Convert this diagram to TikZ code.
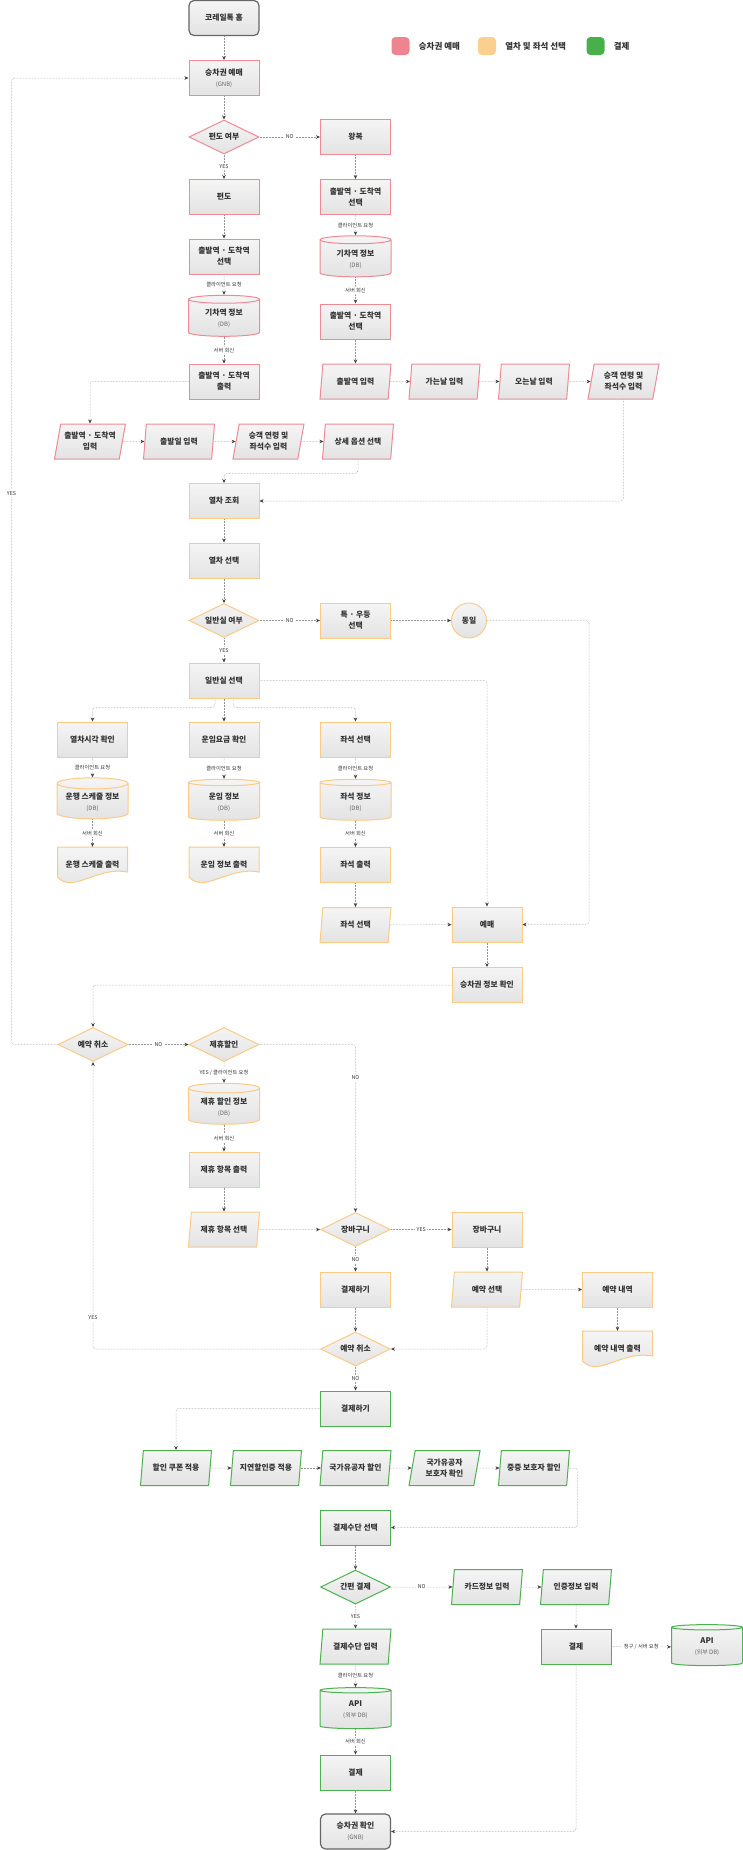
\documentclass[tikz,border=0pt]{standalone}
\usepackage{fontspec}
\setmainfont{Noto Sans CJK KR}
\usetikzlibrary{arrows.meta,positioning,shapes.geometric,calc}
\definecolor{Rc}{HTML}{EE8A95}
\definecolor{Oc}{HTML}{FBCB86}
\definecolor{Gc}{HTML}{4CB14E}
\definecolor{Tc}{HTML}{666666}
\definecolor{ink}{HTML}{333333}
\definecolor{RL}{HTML}{EE8490}
\definecolor{OL}{HTML}{FBCF90}
\definecolor{GL}{HTML}{47B04A}
\newcommand{\bx}{\fontsize{7.8}{11}\selectfont\bfseries}
\newcommand{\lbf}{\fontsize{5.3}{6}\selectfont}
\newcommand{\subtx}[1]{{\fontsize{6}{8}\selectfont\mdseries\color{black!60}#1}}
\tikzset{
  shp/.style={font=\bx, text=ink, line width=1pt, top color=black!4, bottom color=black!11, align=center, inner sep=1pt},
  proc/.style={shp, rectangle, minimum width=70pt, minimum height=35pt},
  term/.style={proc, rounded corners=5pt, draw=Tc, line width=1.2pt},
  dec/.style={shp, diamond, aspect=2, inner sep=0pt, minimum width=70pt, minimum height=34pt},
  io/.style={shp, trapezium, trapezium left angle=73, trapezium right angle=107, trapezium stretches body, minimum width=71pt, minimum height=35pt},
  db/.style={shp, cylinder, shape border rotate=90, aspect=0.2, minimum width=71pt, minimum height=41pt},
  conn/.style={shp, circle, minimum size=35pt, inner sep=0pt},
  doc/.style={font=\bx, text=ink, align=center, minimum width=70pt, minimum height=36pt, inner sep=1pt},
  docln/.style={line width=1pt, top color=black!4, bottom color=black!11},
  Rb/.style={draw=Rc}, Ob/.style={draw=Oc}, Gb/.style={draw=Gc},
  lbl/.style={font=\lbf, text=ink, fill=white, inner sep=1.5pt},
  link/.style={densely dotted, draw=black!42, line width=0.5pt, rounded corners=3pt, -{Stealth[length=4pt, width=3.5pt, color=black!75]}},
  key/.style={rounded corners=4pt, minimum size=18pt, inner sep=0pt},
  keytx/.style={font=\fontsize{8.5}{10}\selectfont\bfseries, text=ink, inner sep=0pt},
}
\newcommand{\docnode}[5]{% name, x, y, border, text
  \path[docln, #4] ({#2-35},{#3-18}) -- ({#2+35},{#3-18}) -- ({#2+35},{#3+7})
    .. controls ({#2+5},{#3+1}) and ({#2-20},{#3+29}) .. ({#2-35},{#3+12}) -- cycle;
  \node[doc] (#1) at (#2,#3) {#5};}
\begin{document}
\begin{tikzpicture}[x=1pt, y=-1pt]
  \useasboundingbox (0,0) rectangle (743,1850);
  % legend
  \node[key, fill=RL] (kR) at (400.5,46) {};
  \node[keytx, right=9pt of kR] (tR) {승차권 예매};
  \node[key, fill=OL] (kO) at (487,46) {};
  \node[keytx, right=9pt of kO] (tO) {열차 및 좌석 선택};
  \node[key, fill=GL] (kG) at (595.5,46) {};
  \node[keytx, right=9pt of kG] (tG) {결제};
  % ticket booking
  \node[term] (home) at (224,18) {코레일톡 홈};
  \node[proc, Rb] (gnb) at (224,78) {승차권 예매\\\subtx{(GNB)}};
  \node[dec, Rb] (qOne) at (224,137) {편도 여부};
  \node[proc, Rb] (round) at (355.5,137) {왕복};
  \node[proc, Rb] (one) at (224,197) {편도};
  \node[proc, Rb] (selL) at (224,256.5) {출발역 · 도착역\\선택};
  \node[db, Rb] (dbL) at (224,318.5) {기차역 정보\\\subtx{(DB)}};
  \node[proc, Rb] (outL) at (224,381.5) {출발역 · 도착역\\출력};
  \node[proc, Rb] (selR) at (355.5,197) {출발역 · 도착역\\선택};
  \node[db, Rb] (dbR) at (355.5,259) {기차역 정보\\\subtx{(DB)}};
  \node[proc, Rb] (outR) at (355.5,321.5) {출발역 · 도착역\\선택};
  \node[io, Rb] (inR1) at (355.5,381.5) {출발역 입력};
  \node[io, Rb] (inR2) at (444.5,381.5) {가는날 입력};
  \node[io, Rb] (inR3) at (534,381.5) {오는날 입력};
  \node[io, Rb] (inR4) at (623.5,381.5) {승객 연령 및\\좌석수 입력};
  \node[io, Rb] (inL1) at (90,441.5) {출발역 · 도착역\\입력};
  \node[io, Rb] (inL2) at (179,441.5) {출발일 입력};
  \node[io, Rb] (inL3) at (268.5,441.5) {승객 연령 및\\좌석수 입력};
  \node[io, Rb] (inL4) at (358,441.5) {상세 옵션 선택};
  % train and seat
  \node[proc, Ob] (search) at (224,501) {열차 조회};
  \node[proc, Ob] (train) at (224,560.5) {열차 선택};
  \node[dec, Ob] (qGen) at (224,620.5) {일반실 여부};
  \node[proc, Ob] (prem) at (355.5,620.5) {특 · 우등\\선택};
  \node[conn, Ob] (same) at (469,620.5) {동일};
  \node[proc, Ob] (gen) at (224,680.5) {일반실 선택};
  \node[proc, Ob] (time) at (92.5,739.5) {열차시각 확인};
  \node[proc, Ob] (fare) at (224,739.5) {운임요금 확인};
  \node[proc, Ob] (seat) at (355.5,739.5) {좌석 선택};
  \node[db, Ob] (dbT) at (92.5,802) {운행 스케줄 정보\\\subtx{(DB)}};
  \node[db, Ob] (dbF) at (224,802) {운임 정보\\\subtx{(DB)}};
  \node[db, Ob] (dbS) at (355.5,802) {좌석 정보\\\subtx{(DB)}};
  \docnode{docT}{92.5}{865}{Ob}{운행 스케줄 출력}
  \docnode{docF}{224}{865}{Ob}{운임 정보 출력}
  \node[proc, Ob] (seatOut) at (355.5,865) {좌석 출력};
  \node[io, Ob] (seatIn) at (355.5,925) {좌석 선택};
  \node[proc, Ob] (buy) at (487,924.5) {예매};
  \node[proc, Ob] (info) at (487,985) {승차권 정보 확인};
  \node[dec, Ob] (cancelA) at (93,1044.5) {예약 취소};
  \node[dec, Ob] (coop) at (224,1044.5) {제휴할인};
  \node[db, Ob] (dbC) at (224,1107) {제휴 할인 정보\\\subtx{(DB)}};
  \node[proc, Ob] (coopOut) at (224,1169.5) {제휴 항목 출력};
  \node[io, Ob] (coopIn) at (224,1229.5) {제휴 항목 선택};
  \node[dec, Ob] (qCart) at (355.5,1229.5) {장바구니};
  \node[proc, Ob] (cart) at (487,1229.5) {장바구니};
  \node[proc, Ob] (payA) at (355.5,1289.5) {결제하기};
  \node[io, Ob] (resSel) at (487,1289.5) {예약 선택};
  \node[proc, Ob] (resList) at (617.5,1289.5) {예약 내역};
  \docnode{resDoc}{617.5}{1349}{Ob}{예약 내역 출력}
  \node[dec, Ob] (cancelB) at (355.5,1349) {예약 취소};
  % payment
  \node[proc, Gb] (payB) at (355.5,1408.5) {결제하기};
  \node[io, Gb] (d1) at (176,1468) {할인 쿠폰 적용};
  \node[io, Gb] (d2) at (266,1468) {지연할인증 적용};
  \node[io, Gb] (d3) at (355.5,1468) {국가유공자 할인};
  \node[io, Gb] (d4) at (444.5,1468) {국가유공자\\보호자 확인};
  \node[io, Gb] (d5) at (534,1468) {중증 보호자 할인};
  \node[proc, Gb] (method) at (355.5,1527.5) {결제수단 선택};
  \node[dec, Gb] (qEasy) at (355.5,1587) {간편 결제};
  \node[io, Gb] (card) at (487,1587) {카드정보 입력};
  \node[io, Gb] (auth) at (576,1587) {인증정보 입력};
  \node[io, Gb] (methodIn) at (355.5,1646.5) {결제수단 입력};
  \node[proc, Gb] (payR) at (576,1646.5) {결제};
  \node[db, Gb] (apiR) at (707,1647) {API\\\subtx{(외부 DB)}};
  \node[db, Gb] (apiL) at (355.5,1710) {API\\\subtx{(외부 DB)}};
  \node[proc, Gb] (payL) at (355.5,1772.5) {결제};
  \node[term] (fin) at (355.5,1831.5) {승차권 확인\\\subtx{(GNB)}};
  % links
  \foreach \a/\b in {home/gnb, gnb/qOne, round/selR, one/selL, outR/inR1, inR1/inR2, inR2/inR3, inR3/inR4,
    inL1/inL2, inL2/inL3, inL3/inL4, search/train, train/qGen, prem/same, gen/fare, seatOut/seatIn, seatIn/buy,
    buy/info, coopOut/coopIn, coopIn/qCart, cart/resSel, resSel/resList, resList/resDoc, payA/cancelB,
    d1/d2, d2/d3, d3/d4, d4/d5, method/qEasy, card/auth, auth/payR, payL/fin}
    \draw[link] (\a) -- (\b);
  \foreach \a/\b/\t in {qOne/round/NO, qOne/one/YES, selL/dbL/클라이언트 요청, dbL/outL/서버 회신,
    selR/dbR/클라이언트 요청, dbR/outR/서버 회신, qGen/prem/NO, qGen/gen/YES,
    time/dbT/클라이언트 요청, fare/dbF/클라이언트 요청, seat/dbS/클라이언트 요청,
    dbT/docT/서버 회신, dbF/docF/서버 회신, dbS/seatOut/서버 회신, cancelA/coop/NO, dbC/coopOut/서버 회신,
    qCart/cart/YES, qCart/payA/NO, cancelB/payB/NO, qEasy/methodIn/YES, qEasy/card/NO,
    methodIn/apiL/클라이언트 요청, apiL/payL/서버 회신}
    \draw[link] (\a) -- node[lbl]{\t} (\b);
  \draw[link] (coop) -- node[lbl]{YES / 클라이언트 요청} (dbC);
  \draw[link] (payR) -- node[lbl]{청구 / 서버 요청} (apiR);
  \draw[link] (outL.west) -| (inL1.north);
  \draw[link] (inL4.south) -- ++(0,14) -| (search.north);
  \draw[link] (inR4) |- (search);
  \draw[link] ([xshift=-9pt]gen.south) -- ++(0,9) -| (time.north);
  \draw[link] ([xshift=9pt]gen.south) -- ++(0,9) -| (seat.north);
  \draw[link] (gen) -| (buy);
  \draw[link] (same.east) -- ++(102,0) |- (buy.east);
  \draw[link] (info) -| (cancelA);
  \draw[link] (cancelA.west) -- ++(-46,0) |- node[lbl, pos=0.285]{YES} (gnb.west);
  \draw[link] (coop) -| node[lbl, pos=0.6]{NO} (qCart);
  \draw[link] (resSel) |- (cancelB);
  \draw[link] (cancelB) -| node[lbl, pos=0.554]{YES} (cancelA);
  \draw[link] (payB) -| (d1);
  \draw[link] (d5.east) -- ++(9,0) |- (method.east);
  \draw[link] (payR) |- (fin);
\end{tikzpicture}
\end{document}
